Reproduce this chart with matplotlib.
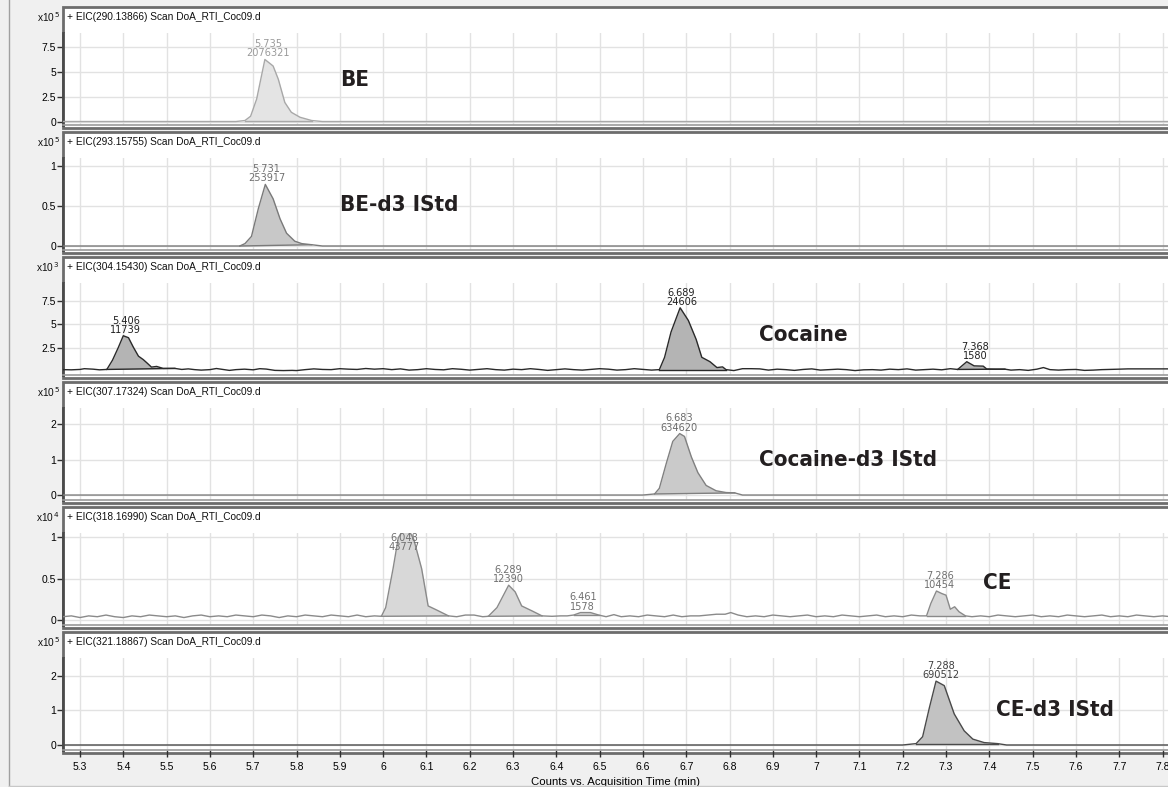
import numpy as np
import matplotlib
matplotlib.use('Agg')
import matplotlib.pyplot as plt
from matplotlib.patches import Rectangle
from matplotlib.lines import Line2D

W, H = 1168, 787

# ---- data ----
titles = ['+ EIC(290.13866) Scan DoA_RTI_Coc09.d',
          '+ EIC(293.15755) Scan DoA_RTI_Coc09.d',
          '+ EIC(304.15430) Scan DoA_RTI_Coc09.d',
          '+ EIC(307.17324) Scan DoA_RTI_Coc09.d',
          '+ EIC(318.16990) Scan DoA_RTI_Coc09.d',
          '+ EIC(321.18867) Scan DoA_RTI_Coc09.d']
exponents = ['5', '5', '3', '5', '4', '5']
compounds = ['BE', 'BE-d3 IStd', 'Cocaine', 'Cocaine-d3 IStd', 'CE', 'CE-d3 IStd']

# BE  (x10^5)
t1 = [5.26, 5.66, 5.681, 5.694, 5.708, 5.727, 5.746, 5.758, 5.773, 5.788, 5.808, 5.835, 5.86, 7.82]
y1 = [0, 0, 0.1, 0.53, 2.26, 6.24, 5.58, 4.25, 1.92, 0.93, 0.43, 0.1, 0, 0]
peaks1 = [(5.681, 5.835)]
labels1 = [(5.735, 2076321)]

# BE-d3 (x10^5)
t2 = [5.26, 5.66, 5.669, 5.681, 5.696, 5.712, 5.728, 5.746, 5.762, 5.777, 5.796, 5.812, 5.835, 5.86, 7.82]
y2 = [0, 0, 0.0, 0.03, 0.12, 0.47, 0.77, 0.59, 0.34, 0.16, 0.06, 0.03, 0.016, 0, 0]
peaks2 = [(5.669, 5.835)]
labels2 = [(5.731, 253917)]

# Cocaine (x10^3)
t3 = [5.26, 5.28, 5.30, 5.31, 5.33, 5.345, 5.362,
      5.375, 5.388, 5.400, 5.412, 5.423, 5.435, 5.446, 5.455, 5.465, 5.477, 5.492, 5.505, 5.519,
      5.535, 5.55, 5.565, 5.58, 5.60, 5.615, 5.63, 5.645, 5.66, 5.68, 5.70, 5.715, 5.73, 5.75,
      5.77, 5.79, 5.80, 5.82, 5.84, 5.86, 5.88, 5.90, 5.92, 5.94, 5.96, 5.98, 6.00, 6.02, 6.04,
      6.06, 6.08, 6.10, 6.12, 6.14, 6.16, 6.18, 6.20, 6.22, 6.24, 6.26, 6.28, 6.30, 6.32, 6.34,
      6.36, 6.38, 6.40, 6.42, 6.44, 6.46, 6.48, 6.50, 6.52, 6.54, 6.56, 6.58, 6.60, 6.62, 6.638,
      6.65, 6.665, 6.686, 6.705, 6.723, 6.736, 6.755, 6.771, 6.784, 6.792,
      6.81, 6.83, 6.85, 6.87, 6.89, 6.91, 6.93, 6.95, 6.97, 6.99, 7.01, 7.03, 7.05, 7.07, 7.09,
      7.11, 7.13, 7.15, 7.17, 7.19, 7.21, 7.23, 7.25, 7.27, 7.29, 7.31, 7.327,
      7.348, 7.365, 7.386, 7.394, 7.415, 7.436,
      7.45, 7.47, 7.49, 7.51, 7.525, 7.54, 7.56, 7.58, 7.60, 7.62, 7.64, 7.66, 7.68, 7.70, 7.72,
      7.74, 7.76, 7.78, 7.80, 7.82]
y3 = [0.2, 0.18, 0.22, 0.3, 0.25, 0.18, 0.22,
      1.2, 2.5, 3.8, 3.59, 2.6, 1.63, 1.27, 0.9, 0.47, 0.54, 0.33, 0.33, 0.33,
      0.22, 0.28, 0.2, 0.15, 0.2, 0.32, 0.22, 0.12, 0.2, 0.25, 0.18, 0.3, 0.26, 0.12,
      0.1, 0.12, 0.1, 0.2, 0.28, 0.22, 0.2, 0.3, 0.25, 0.22, 0.32, 0.25, 0.3, 0.2, 0.28,
      0.15, 0.2, 0.3, 0.22, 0.18, 0.3, 0.24, 0.15, 0.22, 0.3, 0.2, 0.15, 0.25, 0.2, 0.3,
      0.22, 0.12, 0.2, 0.28, 0.2, 0.15, 0.22, 0.3, 0.25, 0.15, 0.2, 0.3, 0.22, 0.15, 0.2,
      1.5, 4.2, 6.77, 5.42, 3.41, 1.51, 1.04, 0.42, 0.49, 0.2,
      0.1, 0.3, 0.3, 0.28, 0.15, 0.25, 0.2, 0.12, 0.22, 0.28, 0.15, 0.2, 0.25, 0.2, 0.1,
      0.18, 0.2, 0.15, 0.25, 0.2, 0.28, 0.15, 0.2, 0.25, 0.18, 0.3, 0.22,
      1.04, 0.6, 0.57, 0.27, 0.25, 0.25,
      0.15, 0.2, 0.12, 0.25, 0.42, 0.2, 0.15, 0.2, 0.22, 0.12, 0.15, 0.2, 0.22, 0.25, 0.28,
      0.28, 0.28, 0.28, 0.28, 0.28]
peaks3 = [(5.362, 5.519), (6.638, 6.792), (7.327, 7.436)]
labels3 = [(5.406, 11739), (6.689, 24606), (7.368, 1580)]

# Cocaine-d3 (x10^5)
t4 = [5.26, 6.60, 6.627, 6.638, 6.654, 6.669, 6.685, 6.696, 6.712, 6.727, 6.746, 6.769, 6.792, 6.812, 6.83, 7.82]
y4 = [0, 0, 0.03, 0.19, 0.89, 1.51, 1.73, 1.65, 1.07, 0.63, 0.27, 0.12, 0.07, 0.06, 0, 0]
peaks4 = [(6.627, 6.812)]
labels4 = [(6.683, 634620)]

# CE (x10^4)
t5 = [5.26, 5.28, 5.30, 5.32, 5.34, 5.36, 5.38, 5.40, 5.42, 5.44, 5.46, 5.48, 5.50, 5.52, 5.54,
      5.56, 5.58, 5.60, 5.62, 5.64, 5.66, 5.68, 5.70, 5.72, 5.74, 5.76, 5.78, 5.80, 5.82, 5.84,
      5.86, 5.88, 5.90, 5.92, 5.94, 5.96, 5.98, 5.996,
      6.006, 6.023, 6.035, 6.046, 6.058, 6.071, 6.089, 6.104, 6.124, 6.151,
      6.17, 6.19, 6.21, 6.23, 6.243,
      6.263, 6.29, 6.305, 6.32, 6.344, 6.367,
      6.39, 6.41, 6.425, 6.44, 6.456, 6.479, 6.498,
      6.515, 6.533, 6.55, 6.57, 6.59, 6.61, 6.63, 6.65, 6.67, 6.69, 6.71, 6.73, 6.75, 6.77, 6.79,
      6.803, 6.82, 6.84, 6.86, 6.88, 6.90, 6.92, 6.94, 6.96, 6.98, 7.00, 7.02, 7.04, 7.06, 7.08,
      7.10, 7.12, 7.14, 7.16, 7.18, 7.20, 7.22, 7.24, 7.255,
      7.265, 7.278, 7.29, 7.30, 7.31, 7.32, 7.33, 7.345,
      7.36, 7.38, 7.40, 7.42, 7.44, 7.46, 7.48, 7.50, 7.52, 7.54, 7.56, 7.58, 7.60, 7.62, 7.64,
      7.66, 7.68, 7.70, 7.72, 7.74, 7.76, 7.78, 7.80, 7.82]
y5 = [0.04, 0.05, 0.03, 0.05, 0.04, 0.06, 0.04, 0.03, 0.05, 0.04, 0.06, 0.05, 0.04, 0.05, 0.03,
      0.05, 0.06, 0.04, 0.05, 0.04, 0.06, 0.05, 0.04, 0.06, 0.05, 0.03, 0.05, 0.04, 0.06, 0.05,
      0.04, 0.06, 0.05, 0.04, 0.06, 0.04, 0.05, 0.045,
      0.15, 0.62, 0.99, 1.09, 1.10, 0.97, 0.62, 0.17, 0.12, 0.05,
      0.04, 0.06, 0.06, 0.04, 0.045,
      0.15, 0.42, 0.34, 0.17, 0.11, 0.05,
      0.045, 0.05, 0.05, 0.06, 0.09, 0.09, 0.06,
      0.04, 0.065, 0.04, 0.05, 0.04, 0.06, 0.05, 0.04, 0.06, 0.04, 0.05, 0.05, 0.06, 0.07, 0.07,
      0.09, 0.06, 0.04, 0.05, 0.04, 0.06, 0.05, 0.04, 0.05, 0.06, 0.04, 0.05, 0.04, 0.06, 0.05,
      0.04, 0.05, 0.06, 0.04, 0.05, 0.04, 0.06, 0.05, 0.05,
      0.2, 0.35, 0.32, 0.3, 0.13, 0.16, 0.1, 0.05,
      0.04, 0.05, 0.04, 0.06, 0.05, 0.04, 0.05, 0.06, 0.04, 0.05, 0.04, 0.06, 0.05, 0.04, 0.05,
      0.06, 0.04, 0.05, 0.04, 0.06, 0.05, 0.04, 0.05, 0.04]
peaks5 = [(5.996, 6.151), (6.243, 6.367), (6.44, 6.498), (7.255, 7.345)]
labels5 = [(6.048, 43777), (6.289, 12390), (6.461, 1578), (7.286, 10454)]

# CE-d3 (x10^5)
t6 = [5.26, 7.20, 7.231, 7.246, 7.262, 7.277, 7.296, 7.319, 7.342, 7.362, 7.388, 7.419, 7.44, 7.82]
y6 = [0, 0, 0.04, 0.24, 1.10, 1.85, 1.72, 0.90, 0.41, 0.17, 0.07, 0.04, 0, 0]
peaks6 = [(7.231, 7.419)]
labels6 = [(7.288, 690512)]

yticks = [[0, 2.5, 5, 7.5], [0, 0.5, 1], [2.5, 5, 7.5], [0, 1, 2], [0, 0.5, 1], [0, 1, 2]]
xticks = [5.3, 5.4, 5.5, 5.6, 5.7, 5.8, 5.9, 6, 6.1, 6.2, 6.3, 6.4, 6.5, 6.6, 6.7, 6.8, 6.9,
          7, 7.1, 7.2, 7.3, 7.4, 7.5, 7.6, 7.7, 7.8]

traces = [(t1, y1, peaks1, labels1), (t2, y2, peaks2, labels2), (t3, y3, peaks3, labels3),
          (t4, y4, peaks4, labels4), (t5, y5, peaks5, labels5), (t6, y6, peaks6, labels6)]

# ---- styling / layout ----
ylims = [(-0.35, 8.9), (-0.05, 1.1), (-0.37, 9.4), (-0.14, 2.45), (-0.06, 1.05), (-0.145, 2.52)]
fills = ['#e4e4e4', '#c8c8c8', '#b4b4b4', '#cacaca', '#d8d8d8', '#c2c2c2']
edges = ['#a8a8a8', '#7a7a7a', '#2a2a2a', '#808080', '#8a8a8a', '#4a4a4a']
lblcol = ['#9a9a9a', '#707070', '#202020', '#6a6a6a', '#707070', '#404040']
name_pos = [(5.900, 4.2), (5.900, 0.51), (6.868, 3.9), (6.868, 0.99), (7.385, 0.45), (7.415, 1.02)]
xmin = 5.3 + (63 - 80) / 433.0
xmax = 5.3 + (1168 - 80) / 433.0

bold_font = ['DejaVu Sans']
small_font = ['Liberation Sans', 'DejaVu Sans']

fig = plt.figure(figsize=(W / 100, H / 100), dpi=100)
fig.patch.set_facecolor('#f0f0f0')


def fx(px):
    return px / W


def fy(py):
    return 1 - py / H


fig.add_artist(Line2D([fx(8.5), fx(8.5)], [0, 1], color='#a0a0a0', lw=1))
fig.add_artist(Line2D([fx(8.5), 1], [fy(786), fy(786)], color='#c8c8c8', lw=1))

for i in range(6):
    T = 7 + 125 * i
    t, y, peaks, labels = traces[i]
    t = np.array(t)
    y = np.array(y)

    # panel frame (white) with header
    fig.add_artist(Rectangle((fx(63), fy(T + 121)), fx(1200 - 63), (121) / H,
                             facecolor='white', edgecolor='#6c6c6c', lw=2, zorder=0))
    fig.text(fx(67), fy(T + 10), titles[i], fontsize=7.3, family=small_font,
             va='center', ha='left', color='#101010')
    fig.text(fx(60), fy(T + 10), r'x10$^{\,' + exponents[i] + '}$', fontsize=7.3,
             family=small_font, va='center', ha='right', color='#101010')

    ax = fig.add_axes([fx(63), fy(T + 118), fx(1168 - 63), 92 / H])
    ax.set_xlim(xmin, xmax)
    ax.set_ylim(*ylims[i])
    ax.set_facecolor('white')

    ax.set_xticks(xticks)
    ax.set_yticks(yticks[i])
    ax.set_yticklabels([('%g' % v) for v in yticks[i]], fontsize=7.5, family=small_font)
    ax.grid(True, color='#e2e2e2', lw=1)
    ax.set_axisbelow(True)
    ax.tick_params(axis='y', length=4, width=1, pad=1, color='#303030')
    for s in ['top', 'right']:
        ax.spines[s].set_visible(False)
    ax.spines['left'].set_color('#4a4a4a')
    ax.spines['left'].set_linewidth(2)
    ax.spines['bottom'].set_color('#9a9a9a')
    ax.spines['bottom'].set_linewidth(1.2)

    if i < 5:
        ax.tick_params(axis='x', length=0, labelbottom=False)
    else:
        ax.tick_params(axis='x', length=5, width=1, pad=4, color='#303030')
        ax.set_xticklabels([('%g' % v) for v in xticks], fontsize=7.5, family=small_font)
        ax.set_xlabel('Counts vs. Acquisition Time (min)', fontsize=8.2,
                      family=small_font, labelpad=3)

    # trace
    ax.plot(t, y, color=edges[i], lw=1, zorder=3)
    for a, b in peaks:
        m = (t >= a) & (t <= b)
        base = np.interp(t[m], [a, b], [y[m][0], y[m][-1]])
        ax.fill_between(t[m], base, y[m], color=fills[i], lw=0, zorder=2)
        ax.plot([a, b], [y[m][0], y[m][-1]], color=edges[i], lw=1, zorder=3)

    # peak labels, kept inside the plot like the software does
    ylo, yhi = ylims[i]
    upp = (yhi - ylo) / 92.0
    for k, (rt, area) in enumerate(labels):
        a, b = peaks[k]
        m = (t >= a) & (t <= b)
        apex = y[m].max()
        ytxt = min(apex + 1 * upp, yhi - 19 * upp)
        ax.text(rt, ytxt, '%.3f\n%d' % (rt, area), fontsize=7.8, family=['DejaVu Sans'],
                fontstretch='condensed', ha='center', va='bottom', color=lblcol[i],
                linespacing=0.9, zorder=4)

    ax.text(name_pos[i][0], name_pos[i][1], compounds[i], fontsize=16,
            family=bold_font, fontweight='bold', fontstretch='condensed',
            ha='left', va='center', color='#231f20', zorder=5)

fig.savefig('out.png', dpi=100, facecolor=fig.get_facecolor())
